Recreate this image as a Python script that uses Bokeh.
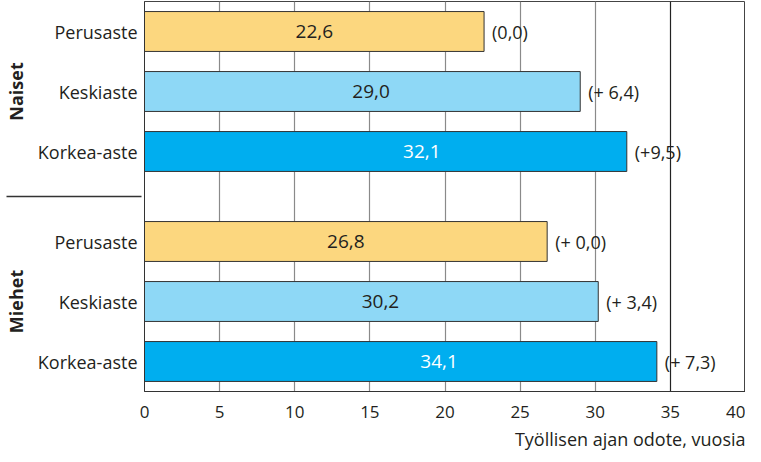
from bokeh.plotting import figure
from bokeh.models import ColumnDataSource, FactorRange, FixedTicker, Grid, Title, LabelSet
from bokeh.core.properties import value
from bokeh.embed import file_html
from bokeh.resources import INLINE

# ---- data ----
groups = ["Naiset", "Miehet"]
levels = ["Perusaste", "Keskiaste", "Korkea-aste"]
naiset_values = [22.6, 29.0, 32.1]
miehet_values = [26.8, 30.2, 34.1]
naiset_diff = ["(0,0)", "(+ 6,4)", "(+9,5)"]
miehet_diff = ["(+ 0,0)", "(+ 3,4)", "(+ 7,3)"]
x_ticks = [0, 5, 10, 15, 20, 25, 30, 35, 40]
ref_line = [35]
x_title = "Työllisen ajan odote, vuosia"

FONT = "Open Sans"
level_colors = {"Perusaste": "#FCD77F", "Keskiaste": "#8ED8F6", "Korkea-aste": "#00AEEF"}
label_colors = {"Perusaste": "#231F20", "Keskiaste": "#231F20", "Korkea-aste": "#FFFFFF"}
label_pos = {"Perusaste": 0.5, "Keskiaste": 0.52, "Korkea-aste": 0.575}

ys, vals, fills, diffs, lbl, lblx, lblc = [], [], [], [], [], [], []
for g, values, dif in [("Naiset", naiset_values, naiset_diff), ("Miehet", miehet_values, miehet_diff)]:
    for lv, v, d in zip(levels, values, dif):
        ys.append((g, lv))
        vals.append(v)
        fills.append(level_colors[lv])
        diffs.append(d)
        lbl.append(f"{v:.1f}".replace(".", ","))
        lblx.append(v * label_pos[lv])
        lblc.append(label_colors[lv])

src = ColumnDataSource(dict(y=ys, v=vals, fill=fills, diff=diffs, lbl=lbl, lblx=lblx, lblc=lblc))

factors = list(reversed(ys))
yr = FactorRange(*factors, group_padding=0.5, range_padding=0)

W, H = 745, 454
p = figure(width=W, height=H, y_range=yr, x_range=(x_ticks[0], x_ticks[-1]),
           output_backend="svg", toolbar_location=None,
           min_border_left=136, min_border_right=0, min_border_top=1, min_border_bottom=0)
p.background_fill_color = "white"
p.border_fill_color = "white"
p.outline_line_color = "#444444"
p.outline_line_width = 1

p.hbar(y="y", left=0, right="v", height=0.665, fill_color="fill",
       line_color="#333333", line_width=1, source=src)

p.add_layout(LabelSet(x="lblx", y="y", text="lbl", source=src, text_align="center",
                      text_baseline="middle", text_color="lblc", text_font=value(FONT),
                      text_font_size="19px"))
p.add_layout(LabelSet(x="v", y="y", text="diff", source=src, text_align="left",
                      text_baseline="middle", text_color="#231F20", text_font=value(FONT),
                      text_font_size="18px", x_offset=8))

# grid
p.ygrid.grid_line_color = None
p.xgrid.ticker = FixedTicker(ticks=[t for t in x_ticks if t not in ref_line])
p.xgrid.grid_line_color = "#8a8a8a"
p.xgrid.grid_line_width = 1.2
g2 = Grid(dimension=0, ticker=FixedTicker(ticks=ref_line), grid_line_color="#222222", grid_line_width=1.2)
p.add_layout(g2)

# x axis
p.xaxis.ticker = FixedTicker(ticks=x_ticks)
p.xaxis.major_tick_in = 0
p.xaxis.major_tick_out = 0
p.xaxis.minor_tick_line_color = None
p.xaxis.axis_line_color = "#333333"
p.xaxis.major_label_standoff = 14
p.xaxis.major_label_text_font = FONT
p.xaxis.major_label_text_font_size = "17px"
p.xaxis.major_label_text_color = "#231F20"

# y axis
p.yaxis.major_tick_in = 0
p.yaxis.major_tick_out = 0
p.yaxis.axis_line_color = "#333333"
p.yaxis.major_label_standoff = 7
p.yaxis.major_label_text_font = FONT
p.yaxis.major_label_text_font_size = "18px"
p.yaxis.major_label_text_color = "#231F20"
p.yaxis.group_text_font = FONT
p.yaxis.group_text_font_size = "18px"
p.yaxis.group_text_font_style = "bold"
p.yaxis.group_text_color = "#231F20"
p.yaxis.separator_line_color = "#333333"
p.yaxis.separator_line_width = 1.5

t = Title(text=x_title, align="right", text_font=FONT, text_font_size="18px",
          text_font_style="normal", text_color="#231F20")
if "standoff" in Title.properties():
    t.standoff = 8
p.add_layout(t, "below")

open("out.html", "w").write(file_html(p, INLINE))
